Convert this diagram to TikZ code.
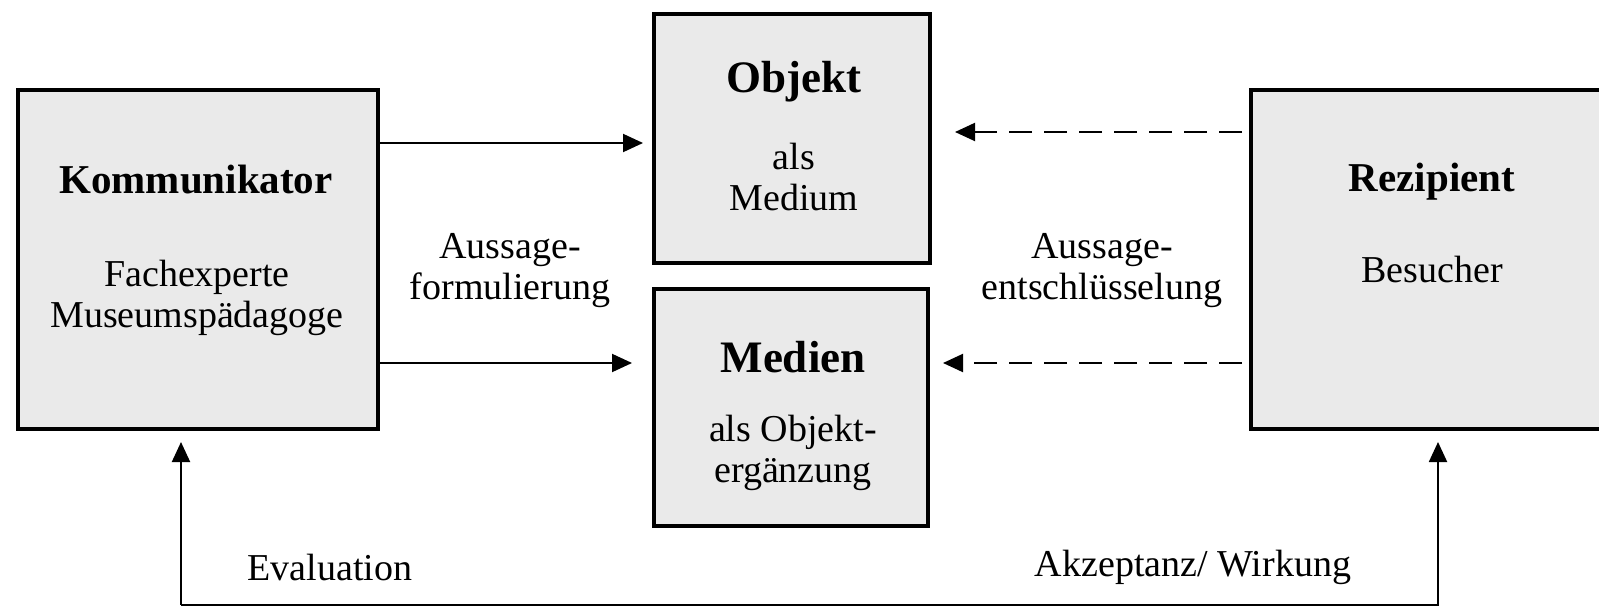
\documentclass[tikz,border=0pt]{standalone}
\usepackage{fontspec}
\setmainfont{Liberation Serif}
\usetikzlibrary{arrows.meta}
\definecolor{boxgray}{RGB}{234,234,234}
\begin{document}
\begin{tikzpicture}[x=0.5pt,y=0.5pt,
  box/.style={draw=black, line width=2pt, fill=boxgray, inner sep=0pt},
  arr/.style={line width=1pt, -{Triangle[length=10pt,width=9pt]}},
  darr/.style={arr, dash pattern=on 11.5pt off 6pt},
  bigt/.style={font=\fontsize{20.5}{24}\selectfont\bfseries, inner sep=0pt},
  bigc/.style={font=\fontsize{22.5}{26}\selectfont\bfseries, inner sep=0pt},
  txt/.style={font=\fontsize{19}{20.5}\selectfont, align=center, inner sep=0pt},
]
\useasboundingbox (0,0) rectangle (1599,606);
% boxes
\node[box, minimum width=180pt, minimum height=169.5pt] (komm) at (198,346.5) {};
\node[box, minimum width=138pt, minimum height=124.5pt] (obj) at (792,467.5) {};
\node[box, minimum width=137pt, minimum height=118.5pt] (med) at (791,198.5) {};
\node[box, minimum width=176pt, minimum height=169.5pt] (rez) at (1427,346.5) {};
% texts
\node[bigt] (kt) at (196,426) {Kommunikator};
\node[txt] (ks) at (197,308.5) {Fachexperte\\Museumspädagoge};
\node[bigc] (ot) at (794,524) {Objekt};
\node[txt] (os) at (794,429) {als\\Medium};
\node[bigc] (mt) at (793,249) {Medien};
\node[txt] (ms) at (793,153) {als Objekt-\\ergänzung};
\node[bigt] (rt) at (1432,424) {Rezipient};
\node[txt] (rs) at (1432,336) {Besucher};
\node[txt] (al) at (510,335.5) {Aussage-\\formulierung};
\node[txt] (ar) at (1102,335.5) {Aussage-\\entschlüsselung};
\node[txt] (ev) at (330,39) {Evaluation};
\node[txt] (ak) at (1193,39) {Akzeptanz/ Wirkung};
% connectors
\coordinate (k1) at ([yshift=58.25pt]komm.east);
\coordinate (k2) at ([yshift=-51.75pt]komm.east);
\coordinate (r1) at ([yshift=63.75pt]rez.west);
\coordinate (r2) at ([yshift=-51.75pt]rez.west);
\draw[arr, shorten >=4.5pt] (k1) -- (k1 -| obj.west);
\draw[arr, shorten >=10pt] (k2) -- (k2 -| med.west);
\draw[darr, shorten <=3.5pt, shorten >=11.5pt] (r1) -- (r1 -| obj.east);
\draw[darr, shorten <=3.5pt, shorten >=6.5pt] (r2) -- (r2 -| med.east);
\coordinate (bl) at (181,1.5);
\coordinate (rb) at ([xshift=5.5pt]rez.south);
\draw[arr, shorten >=5.5pt] (bl) -- (bl |- komm.south);
\draw[arr, shorten >=5.5pt] (bl) -| (rb);
\end{tikzpicture}
\end{document}
